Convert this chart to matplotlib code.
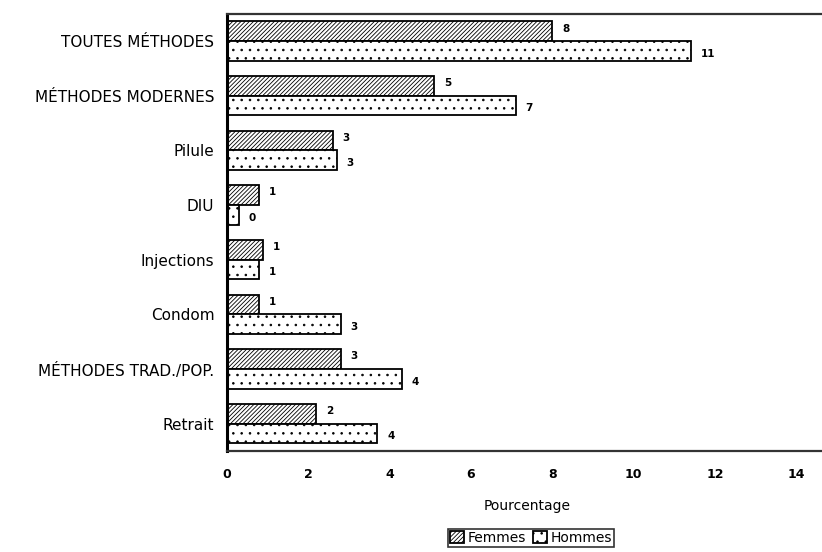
import matplotlib
matplotlib.use('Agg')
import numpy as np
import matplotlib.pyplot as plt

plt.rcParams['font.family'] = ['DejaVu Sans']
plt.rcParams['hatch.linewidth'] = 0.6

categories = ['TOUTES MÉTHODES', 'MÉTHODES MODERNES', 'Pilule', 'DIU',
              'Injections', 'Condom', 'MÉTHODES TRAD./POP.', 'Retrait']
femmes = [8.0, 5.1, 2.6, 0.8, 0.9, 0.8, 2.8, 2.2]
hommes = [11.4, 7.1, 2.7, 0.3, 0.8, 2.8, 4.3, 3.7]
xticks = [0, 2, 4, 6, 8, 10, 12, 14]

fig = plt.figure(figsize=(8.22, 5.52), dpi=100)
ax = fig.add_axes([0.276, 0.183, 0.73, 0.792])

y = np.arange(len(categories))
h = 0.36
bf = ax.barh(y - h / 2, femmes, height=h, color='white', edgecolor='black',
             linewidth=1.3, hatch='/' * 8, label='Femmes')
bh = ax.barh(y + h / 2, hommes, height=h, color='white', edgecolor='black',
             linewidth=1.3, hatch='..', label='Hommes')

# valeurs arrondies au bout des barres
for bars, vals, dy in ((bf, femmes, 2), (bh, hommes, -2)):
    for b, v in zip(bars, vals):
        ax.annotate(f'{v:.0f}', (b.get_width(), b.get_y() + b.get_height() / 2),
                    xytext=(7, dy), textcoords='offset points',
                    ha='left', va='center', fontsize=7.5, fontweight='bold')

ax.set_xlim(0, 14.75)
ax.set_ylim(len(categories) - 0.5, -0.5)
ax.set_yticks(y)
ax.set_yticklabels(categories, fontsize=11)
ax.set_xticks(xticks)
ax.set_xticklabels([str(t) for t in xticks], fontsize=9, fontweight='bold')
ax.tick_params(axis='both', length=0)
ax.tick_params(axis='x', pad=12)
ax.tick_params(axis='y', pad=9)
ax.set_xlabel('Pourcentage', fontsize=10, labelpad=13)

for side in ('top', 'bottom'):
    ax.spines[side].set_linewidth(1.6)
    ax.spines[side].set_color('#333333')
ax.spines['left'].set_linewidth(2.2)
ax.spines['right'].set_visible(False)

leg = fig.legend(handles=[bf, bh], loc='center', bbox_to_anchor=(0.646, 0.026),
                 ncol=2, fontsize=10, frameon=True, fancybox=False,
                 handlelength=1.0, handleheight=1.0, handletextpad=0.25,
                 columnspacing=0.5, borderpad=0.15, borderaxespad=0)
leg.get_frame().set_edgecolor('black')
leg.get_frame().set_linewidth(1.2)

fig.savefig('out.png', dpi=100)
